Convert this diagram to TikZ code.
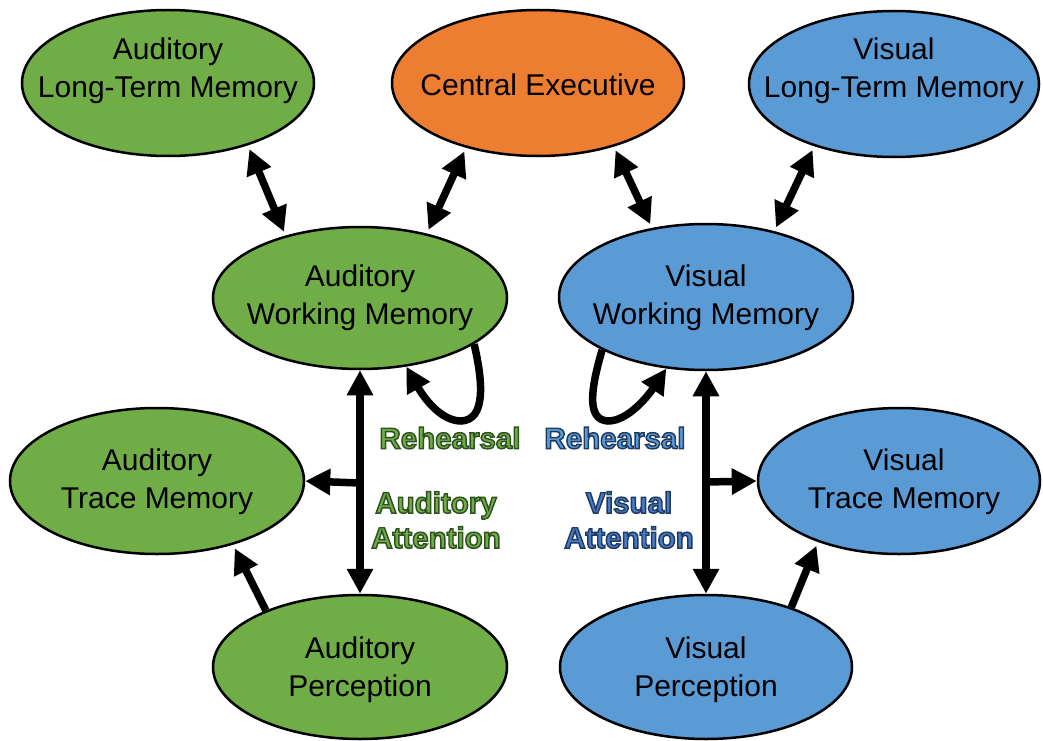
\documentclass[tikz,border=0pt]{standalone}
\usepackage{fontspec}
\setmainfont{Liberation Sans}
\newfontfamily\lblfont{Liberation Sans}[BoldFeatures={FakeBold=5}]
\usetikzlibrary{arrows.meta,shapes.geometric,calc}
\definecolor{cgreen}{HTML}{70AD47}
\definecolor{corange}{HTML}{ED7D31}
\definecolor{cblue}{HTML}{5B9BD5}
\definecolor{battn}{HTML}{4A7BC6}
\tikzset{
  ell/.style={ellipse, draw=black, line width=2.5bp, inner sep=0pt, minimum height=146bp},
  txt/.style={align=center, inner sep=0pt, font=\fontsize{30bp}{38bp}\selectfont},
  lbl/.style={align=center, inner sep=0pt, font=\lblfont\bfseries\fontsize{29.5bp}{35bp}\selectfont},
  tipA/.tip={Triangle[length=25bp,width=25bp]},
  arr/.style={line width=7.5bp, -tipA},
  dbl/.style={line width=7.5bp, tipA-tipA, shorten <=4bp, shorten >=4bp},
}
% outline (stroke) colours for the labels
\newcommand\gout{\special{pdf:literal direct 0.18 0.32 0.12 RG}}
\newcommand\bout{\special{pdf:literal direct 0.12 0.23 0.38 RG}}
\begin{document}
\begin{tikzpicture}[x=1bp,y=-1bp]
\useasboundingbox (0,0) rectangle (1043,741);
% ellipses
\node[ell, fill=cgreen, minimum width=292bp] (altm) at (168,83) {};
\node[ell, fill=corange, minimum width=292bp] (ce) at (538,83) {};
\node[ell, fill=cblue, minimum width=290bp] (vltm) at (894,84) {};
\node[ell, fill=cgreen, minimum width=294bp, minimum height=142bp] (awm) at (360,298) {};
\node[ell, fill=cblue, minimum width=294bp] (vwm) at (706,297) {};
\node[ell, fill=cgreen, minimum width=294bp] (atm) at (157,481) {};
\node[ell, fill=cblue, minimum width=282bp] (vtm) at (899,481) {};
\node[ell, fill=cgreen, minimum width=294bp, minimum height=144bp] (ap) at (360,667) {};
\node[ell, fill=cblue, minimum width=292bp, minimum height=144bp] (vp) at (706,667) {};
% texts
\node[txt] (taltm) at (168,71) {Auditory\\Long-Term Memory};
\node[txt] (tce) at (538,85) {Central Executive};
\node[txt] (tvltm) at (894,71) {Visual\\Long-Term Memory};
\node[txt] (tawm) at (360,298) {Auditory\\Working Memory};
\node[txt] (tvwm) at (706,298) {Visual\\Working Memory};
\node[txt] (tatm) at (157,482) {Auditory\\Trace Memory};
\node[txt] (tvtm) at (904,482) {Visual\\Trace Memory};
\node[txt] (tap) at (360,670) {Auditory\\Perception};
\node[txt] (tvp) at (706,670) {Visual\\Perception};
% double arrows top
\draw[dbl] (altm.-38) -- (awm.140);
\draw[dbl] (ce.-138) -- (awm.44);
\draw[dbl] (ce.-40) -- (vwm.128);
\draw[dbl] (vltm.-142) -- (vwm.44);
% attention arrows
\draw[line width=7.5bp, tipA-tipA] (awm.south) -- (ap.north);
\draw[line width=7.5bp, tipA-tipA] (vwm.south) -- (vp.north);
\coordinate (ab) at (360,483);
\coordinate (vb) at (706,482);
\draw[arr] (ab) -- (atm.east);
\draw[arr] (vb) -- (vtm.west);
\draw[arr, shorten >=4bp] (ap.149) -- (atm.-40);
\draw[arr, shorten >=4bp] (vp.35) -- (vtm.-143);
% rehearsal loops
\draw[arr] (awm.-22) .. controls (483,382) and (486,420) .. (461,421) .. controls (441,421) and (424,398) .. (awm.-56);
\draw[arr] (vwm.-153) .. controls (592,385) and (585,420) .. (608,421) .. controls (628,421) and (648,396) .. (vwm.-119);
% labels
\node[lbl, text=cgreen] (rehA) at (450,438) {\gout Rehearsal};
\node[lbl, text=cblue] (rehV) at (615,438) {\bout Rehearsal};
\node[lbl, text=cgreen] (attA) at (436,520) {\gout Auditory\\\gout Attention};
\node[lbl, text=battn] (attV) at (629,520) {\bout Visual\\\bout Attention};
\end{tikzpicture}
\end{document}
